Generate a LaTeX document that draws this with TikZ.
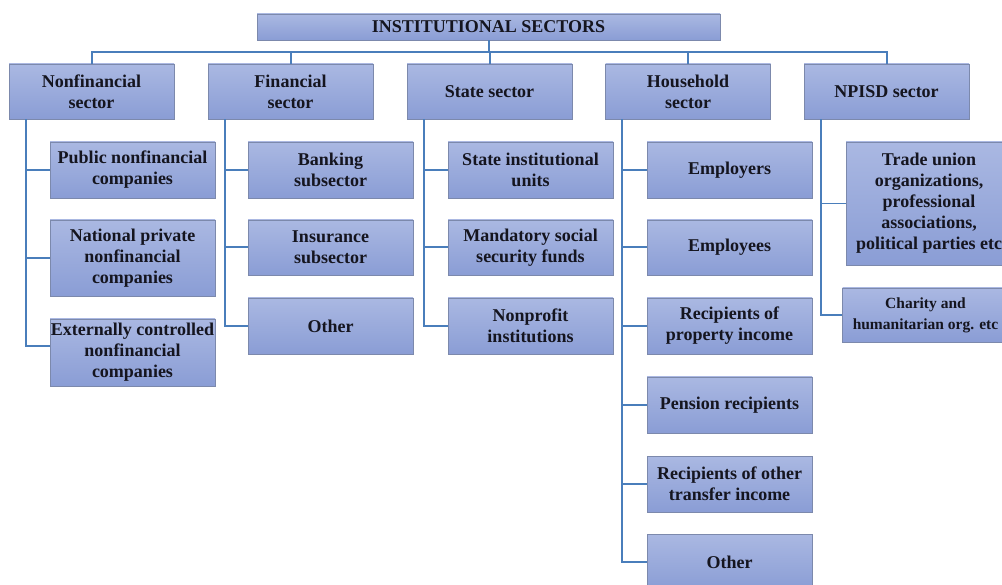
\documentclass[tikz,border=0pt]{standalone}
\usepackage{fontspec}
\setmainfont{Liberation Serif}
\begin{document}
\begin{tikzpicture}[x=1pt,y=-1pt,
  box/.style={draw=boxline, line width=0.8pt, top color=boxtop, bottom color=boxbot,
    minimum width=165pt, inner sep=0pt, align=center, text=txt,
    font=\fontsize{18}{21}\selectfont\bfseries},
  smallbox/.style={box, font=\fontsize{15.5}{21}\selectfont\bfseries},
  conn/.style={draw=linecol, line width=2pt},
  thinconn/.style={draw=linecol, line width=1pt}]
\definecolor{boxtop}{HTML}{AAB8E2}
\definecolor{boxbot}{HTML}{8A9DD5}
\definecolor{boxline}{HTML}{7C89AC}
\definecolor{linecol}{HTML}{4A7EBB}
\definecolor{txt}{HTML}{15151F}
\useasboundingbox (0,0) rectangle (1002,585);
\clip (0,0) rectangle (1002,585);
\fill[white] (0,0) rectangle (1002,585);
% top
\node[box, minimum width=463pt, minimum height=26pt] (top) at (488.5,27) {INSTITUTIONAL SECTORS};
% sectors
\node[box, minimum height=55pt] (nf) at (91.5,91.5) {Nonfinancial\\sector};
\node[box, minimum height=55pt] (fin) at (290.5,91.5) {Financial\\sector};
\node[box, minimum height=55pt] (st) at (489.5,91.5) {State sector};
\node[box, minimum height=55pt] (hh) at (688,91.5) {Household\\sector};
\node[box, minimum height=55pt] (np) at (886.5,91.5) {NPISD sector};
% column 1
\node[box, minimum height=56pt] (a1) at (132.5,170) {Public nonfinancial\\companies};
\node[box, minimum height=76pt] (a2) at (132.5,258) {National private\\nonfinancial\\companies};
\node[box, minimum height=67pt] (a3) at (132.5,352.5) {Externally controlled\\nonfinancial\\companies};
% column 2
\node[box, minimum height=56pt] (b1) at (330.5,170) {Banking\\subsector};
\node[box, minimum height=55pt] (b2) at (330.5,247.5) {Insurance\\subsector};
\node[box, minimum height=56pt] (b3) at (330.5,326) {Other};
% column 3
\node[box, minimum height=56pt] (s1) at (530.5,170) {State institutional\\units};
\node[box, minimum height=55pt] (s2) at (530.5,247.5) {Mandatory social\\security funds};
\node[box, minimum height=56pt] (s3) at (530.5,326) {Nonprofit\\institutions};
% column 4
\node[box, minimum height=56pt] (h1) at (729.5,170) {Employers};
\node[box, minimum height=55pt] (h2) at (729.5,247.5) {Employees};
\node[box, minimum height=56pt] (h3) at (729.5,326) {Recipients of\\property income};
\node[box, minimum height=56pt] (h4) at (729.5,405) {Pension recipients};
\node[box, minimum height=56pt] (h5) at (729.5,484) {Recipients of other\\transfer income};
\node[box, minimum height=56pt] (h6) at (729.5,562) {Other};
% column 5
\node[box, minimum width=166pt, minimum height=123pt] (n1) at (929,203.5) {Trade union\\organizations,\\professional\\associations,\\political parties etc};
\node[smallbox, minimum width=166pt, minimum height=54pt] (n2) at (925.5,315) {Charity and\\humanitarian org. etc};
% bus
\coordinate (bus) at (0,52);
\draw[conn] (top.south) -- (top.south |- bus);
\draw[conn] (nf.north) -- (nf.north |- bus) -| (np.north);
\draw[conn] (fin.north) -- (fin.north |- bus);
\draw[conn] (st.north) -- (st.north |- bus);
\draw[conn] (hh.north) -- (hh.north |- bus);
% branches
\foreach \p/\c in {nf/a1,nf/a2,fin/b1,fin/b2,fin/b3,st/s1,st/s2,st/s3,hh/h1,hh/h2,hh/h3,hh/h4,hh/h5,hh/h6,np/n2}
  \draw[conn] ([xshift=17pt]\p.south west) |- (\c.west);
\draw[conn] ([xshift=17pt]nf.south west) |- ([yshift=6pt]a3.west);
\draw[thinconn] ([xshift=17pt]np.south west |- n1.west) -- (n1.west);
\end{tikzpicture}
\end{document}
